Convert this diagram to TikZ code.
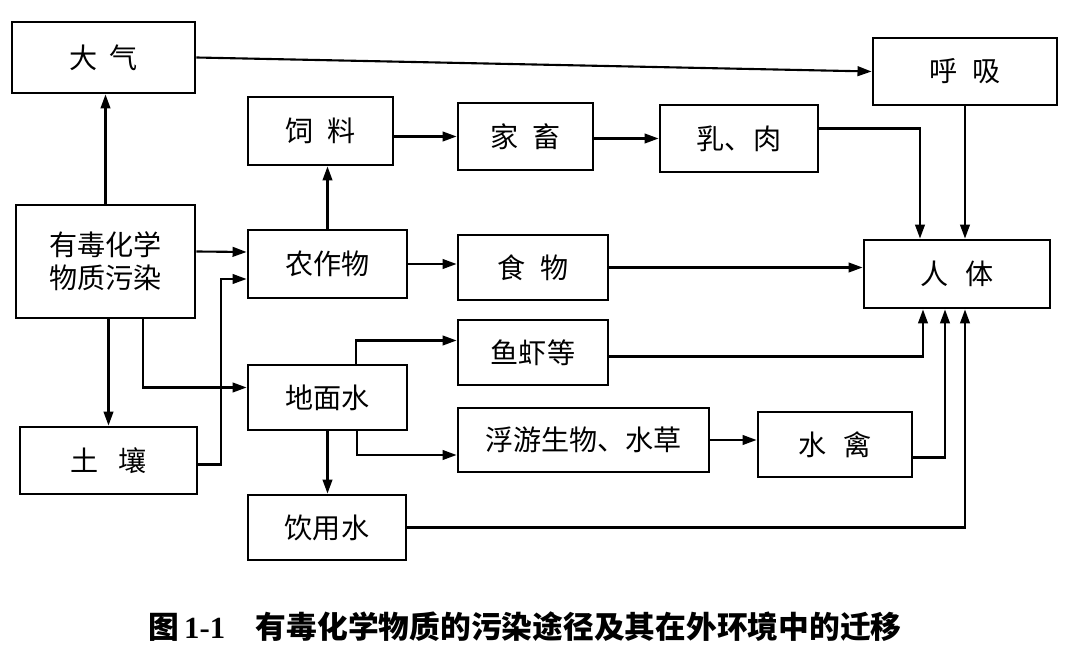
\documentclass[tikz,border=0pt]{standalone}
\usepackage{fontspec}
\setmainfont{Liberation Serif}
\newfontfamily\cjk{Noto Sans CJK SC}
\usetikzlibrary{arrows.meta,calc}

\begin{document}
\begin{tikzpicture}[x=0.02cm,y=-0.02cm,
    box/.style 2 args={draw,line width=1.6pt,inner sep=0pt,minimum width=#1*0.02cm,minimum height=#2*0.02cm,font=\cjk\fontsize{16}{19}\selectfont},
    arr/.style={line width=1.2pt,-{Stealth[length=8pt,width=5.5pt,inset=0pt]}}]
  \useasboundingbox (0,0) rectangle (1080,648);
  \node[box={183}{71}] (dq) at (103.5,57.5) {大\hspace{0.4em}气};
  \node[box={184}{67}] (hx) at (965,71.5) {呼\hspace{0.5em}吸};
  \node[box={145}{68}] (sl) at (320.5,131) {饲\hspace{0.5em}料};
  \node[box={135}{67}] (jc) at (525.5,136.5) {家\hspace{0.5em}畜};
  \node[box={158}{67}] (rr) at (739,138.5) {乳、肉};
  \node[box={179}{113},align=center] (wr) at (105.5,261.5) {有毒化学\\物质污染};
  \node[box={159}{68}] (nz) at (327.5,264) {农作物};
  \node[box={150}{65}] (sw) at (533,267.5) {食\hspace{0.5em}物};
  \node[box={186}{68}] (rt) at (957,274) {人\hspace{0.6em}体};
  \node[box={150}{65}] (yx) at (533,352.5) {鱼虾等};
  \node[box={159}{65}] (dm) at (327.5,397.5) {地面水};
  \node[box={251}{64}] (fy) at (583.5,440) {浮游生物、水草};
  \node[box={154}{65}] (sq) at (835,444.5) {水\hspace{0.6em}禽};
  \node[box={177}{67}] (tr) at (108.5,460.5) {土\hspace{0.7em}壤};
  \node[box={158}{65}] (ys) at (327,527.5) {饮用水};
  \node[font=\fontsize{17.5}{20}\selectfont\bfseries] (cap) at (525,627) {{\cjk\bfseries 图}\,1-1\quad{\cjk\bfseries 有毒化学物质的污染途径及其在外环境中的迁移}};
  \draw[arr] (wr.north) -- (wr.north |- dq.south);
  \draw[arr] (dq.east) -- (hx.west);
  \draw[arr] (hx.south) -- (hx.south |- rt.north);
  \draw[arr] ($(rr.east)+(0,-10)$) -| ($(rt.north)+(-37,0)$);
  \draw[arr] (sl.east |- jc) -- (jc.west);
  \draw[arr] (jc.east |- rr) -- (rr.west);
  \draw[arr] (nz.north) -- (nz.north |- sl.south);
  \draw[arr] ($(wr.east)+(0,-10)$) -- ($(nz.west)+(0,-12)$);
  \draw[arr] ($(tr.east)+(0,4)$) -| ($(nz.west)+(-26,15)$) -- ($(nz.west)+(0,15)$);
  \draw[arr] ($(wr.south)+(37.5,0)$) |- ($(dm.west)+(0,-10)$);
  \draw[arr] (wr.south -| tr.north) -- (tr.north);
  \draw[arr] (nz.east) -- (nz.east -| sw.west);
  \draw[arr] (sw.east) -- (sw.east -| rt.west);
  \draw[arr] ($(dm.north)+(28.5,0)$) |- ($(yx.west)+(0,-12)$);
  \draw[arr] ($(yx.east)+(0,4)$) -| ($(rt.south)+(-34,0)$);
  \draw[arr] ($(dm.south)+(29.5,0)$) |- ($(fy.west)+(0,15)$);
  \draw[arr] (dm.south) -- (dm.south |- ys.north);
  \draw[arr] (fy.east) -- (fy.east -| sq.west);
  \draw[arr] ($(sq.east)+(0,13)$) -| ($(rt.south)+(-12,0)$);
  \draw[arr] (ys.east) -| ($(rt.south)+(8,0)$);
\end{tikzpicture}
\end{document}
